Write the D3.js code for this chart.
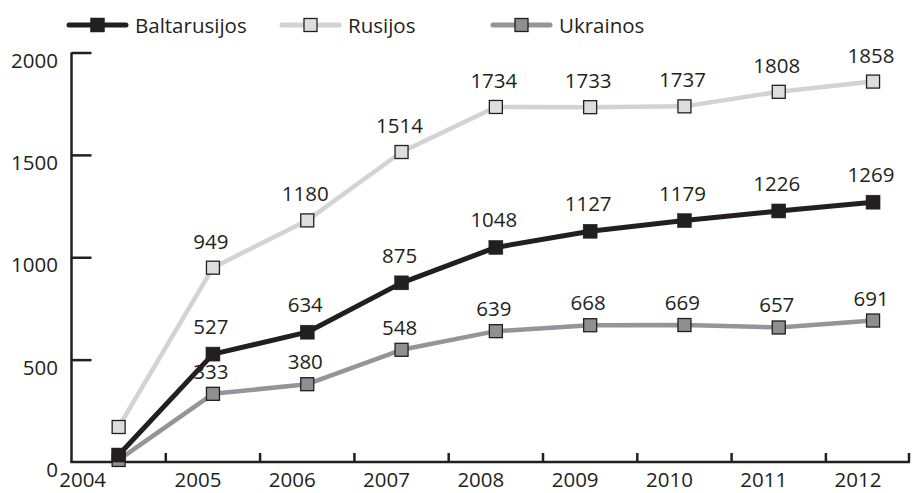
<!DOCTYPE html>
<html>
<head>
<meta charset="utf-8">
<script src="https://cdn.jsdelivr.net/npm/d3@7"></script>
<style>
  html, body { margin: 0; padding: 0; background: #fff; }
  svg { display: block; }
  text { font-family: "Open Sans", "Noto Sans", sans-serif; fill: #231f20; }
</style>
</head>
<body>
<svg id="chart" width="920" height="493"></svg>
<script>
const years = ["2004", "2005", "2006", "2007", "2008", "2009", "2010", "2011", "2012"];
const baltarusijos = [34, 527, 634, 875, 1048, 1127, 1179, 1226, 1269];
const rusijos = [171, 949, 1180, 1514, 1734, 1733, 1737, 1808, 1858];
const ukrainos = [10, 333, 380, 548, 639, 668, 669, 657, 691];
const yTicks = [0, 500, 1000, 1500, 2000];
const seriesNames = ["Baltarusijos", "Rusijos", "Ukrainos"];

const series = [
  { name: seriesNames[0], values: baltarusijos, line: "#231f20", fill: "#231f20", width: 5, size: 14, dy: -28 },
  { name: seriesNames[1], values: rusijos, line: "#d1d3d4", fill: "#dcdde0", width: 4.5, size: 13, dy: -27 },
  { name: seriesNames[2], values: ukrainos, line: "#939598", fill: "#8d8f92", width: 4.5, size: 13, dy: -23 }
];

const svg = d3.select("#chart");
const ink = "#231f20";

const x = d3.scaleBand().domain(years).range([71.5, 920.2]).paddingInner(0).paddingOuter(0);
const y = d3.scaleLinear().domain([0, 2000]).range([462, 52.5]);
const cx = d => x(d) + x.bandwidth() / 2;

// Y axis
const yAxis = d3.axisRight(y).tickValues(yTicks).tickSize(20).tickFormat("");
const gy = svg.append("g").attr("transform", "translate(71.5,0)").call(yAxis);
gy.select(".domain").attr("stroke", ink).attr("stroke-width", 2.5).attr("d", `M0,${y(2000)}V${y(0)}`);
gy.selectAll(".tick line").attr("stroke", ink).attr("stroke-width", 2.5);
gy.selectAll(".tick").filter(d => d === 0).select("line").remove();

svg.append("g").selectAll("text").data(yTicks).join("text")
  .attr("x", 58).attr("y", d => y(d) + 7)
  .attr("text-anchor", "end").attr("dominant-baseline", "central")
  .attr("font-size", "20.5px")
  .text(d => d);

// X axis
const boundaries = years.slice(1).map(d => x(d));
const xEnd = 910;
const gx = svg.append("g");
gx.append("line").attr("x1", 70.3).attr("x2", xEnd).attr("y1", y(0)).attr("y2", y(0))
  .attr("stroke", ink).attr("stroke-width", 2.5);
gx.selectAll("line.tk").data(boundaries.concat([xEnd - 1])).join("line").attr("class", "tk")
  .attr("x1", d => d).attr("x2", d => d).attr("y1", y(0)).attr("y2", y(0) - 9)
  .attr("stroke", ink).attr("stroke-width", 2.5);
gx.selectAll("text").data(years).join("text")
  .attr("x", (d, i) => cx(d) - (i === 0 ? 36 : 15))
  .attr("y", 479)
  .attr("text-anchor", "middle").attr("dominant-baseline", "central")
  .attr("font-size", "20.5px")
  .text(d => d);

// Lines
const line = d3.line().x((v, i) => cx(years[i])).y(v => y(v));
const order = [1, 2, 0];
order.forEach(k => {
  const s = series[k];
  svg.append("path").datum(s.values).attr("d", line)
    .attr("fill", "none").attr("stroke", s.line).attr("stroke-width", s.width)
    .attr("stroke-linejoin", "round");
});
order.forEach(k => {
  const s = series[k];
  svg.append("g").selectAll("rect").data(s.values).join("rect")
    .attr("x", (v, i) => cx(years[i]) - s.size / 2)
    .attr("y", v => y(v) - s.size / 2)
    .attr("width", s.size).attr("height", s.size)
    .attr("fill", s.fill).attr("stroke", ink).attr("stroke-width", k === 0 ? 0.5 : 1.3);
});

// Data labels (skip 2004)
series.forEach(s => {
  svg.append("g").selectAll("text").data(s.values.slice(1)).join("text")
    .attr("x", (v, i) => cx(years[i + 1]) - 2)
    .attr("y", v => y(v) + s.dy)
    .attr("text-anchor", "middle").attr("dominant-baseline", "central")
    .attr("font-size", "20.5px")
    .text(v => v);
});

// Legend
const legendX = [69, 282, 493];
const legend = svg.append("g");
series.forEach((s, i) => {
  const g = legend.append("g").attr("transform", `translate(${legendX[i]},25)`);
  g.append("line").attr("x1", 0).attr("x2", 57).attr("y1", 0).attr("y2", 0)
    .attr("stroke", s.line).attr("stroke-width", 5).attr("stroke-linecap", "round");
  g.append("rect").attr("x", 28.5 - s.size / 2).attr("y", -s.size / 2)
    .attr("width", s.size).attr("height", s.size)
    .attr("fill", s.fill).attr("stroke", ink).attr("stroke-width", i === 0 ? 0.5 : 1.3);
  g.append("text").attr("x", 66).attr("y", 0)
    .attr("dominant-baseline", "central").attr("font-size", "20.5px")
    .text(s.name);
});
</script>
</body>
</html>
